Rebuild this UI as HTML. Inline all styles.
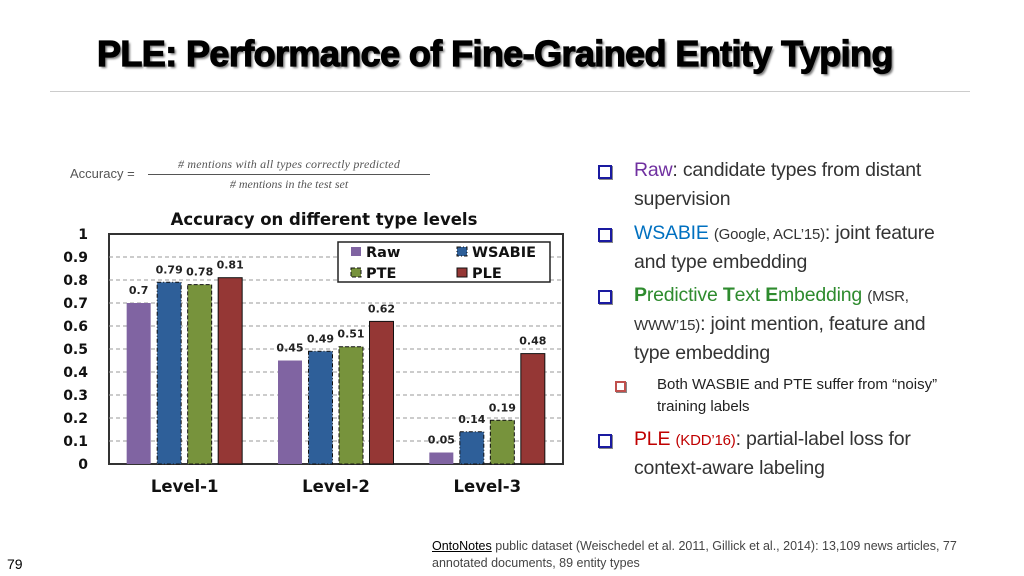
<!DOCTYPE html>
<html><head><meta charset="utf-8"><style>
body{margin:0;width:1024px;height:576px;background:#fff;overflow:hidden;font-family:"Liberation Sans",sans-serif;position:relative}
.abs{position:absolute;margin:0}
#title{left:97px;top:33px;font-size:36px;font-weight:900;white-space:nowrap;letter-spacing:-0.6px;text-shadow:2px 2px 2px #777;-webkit-text-stroke:1.2px #000;transform-origin:0 0;transform:scaleX(1.0)}
#rule{left:50px;top:91px;width:920px;height:1px;background:#ccc}
.line{position:absolute;left:634px;font-size:19.5px;color:#333;white-space:nowrap;letter-spacing:-0.2px}
.sq{position:absolute;left:598px;width:10px;height:10px;border:2px solid #1a1aa0;box-shadow:1px 1px 0 #888}
.small{font-size:15px}
</style></head><body>
<div id="title" class="abs">PLE: Performance of Fine-Grained Entity Typing</div>
<div id="rule" class="abs"></div>

<div class="abs" style="left:70px;top:158px;font-size:13px;color:#555">
 <span style="position:absolute;top:8px;white-space:nowrap">Accuracy =</span>
 <div style="position:absolute;left:78px;top:-1px;width:282px;text-align:center;font-family:'Liberation Serif',serif;font-style:italic;font-size:12px;white-space:nowrap">
  <div style="border-bottom:1px solid #555;padding-bottom:2px;letter-spacing:0.2px"># mentions with all types correctly predicted</div>
  <div style="padding-top:2px"># mentions in the test set</div>
 </div>
</div>

<svg class="abs" style="left:0;top:0" width="580" height="576">
<g id="chart"></g>
</svg>

<div>
<span class="sq" style="top:165px"></span>
<div class="line" style="top:159px"><span style="color:#7030a0">Raw</span>: candidate types from distant</div>
<div class="line" style="top:188px">supervision</div></div>
<div>
<span class="sq" style="top:228px"></span>
<div class="line" style="top:222px"><span style="color:#0070c0">WSABIE</span> <span class="small">(Google, ACL’15)</span>: joint feature</div>
<div class="line" style="top:251px">and type embedding</div></div>
<div>
<span class="sq" style="top:290px"></span>
<div class="line" style="top:284px"><span style="color:#2e8b2e"><b>P</b>redictive <b>T</b>ext <b>E</b>mbedding</span> <span class="small">(MSR,</span></div>
<div class="line" style="top:313px"><span class="small">WWW’15)</span>: joint mention, feature and</div>
<div class="line" style="top:342px">type embedding</div></div>
<div>
<span class="sq" style="top:381px;left:615px;width:7px;height:7px;border-color:#c0504d"></span>
<div class="line" style="left:657px;top:376px;font-size:15px;color:#222;letter-spacing:0">Both WASBIE and PTE suffer from “noisy”</div>
<div class="line" style="left:657px;top:398px;font-size:15px;color:#222;letter-spacing:0">training labels</div></div>
<div>
<span class="sq" style="top:434px"></span>
<div class="line" style="top:428px"><span style="color:#c00000">PLE</span> <span class="small" style="color:#c00000">(KDD’16)</span>: partial-label loss for</div>
<div class="line" style="top:457px">context-aware labeling</div></div>

<div class="abs" style="left:432px;top:538px;width:560px;font-size:12.5px;line-height:17px;color:#444"><span style="color:#000;text-decoration:underline">OntoNotes</span> public dataset (Weischedel et al. 2011, Gillick et al., 2014): 13,109 news articles, 77 annotated documents, 89 entity types</div>
<div class="abs" style="left:7px;top:556px;font-size:14px">79</div>

<script>
const categories=["Level-1","Level-2","Level-3"];
const seriesNames=["Raw","WSABIE","PTE","PLE"];
const raw=[0.7,0.45,0.05];
const wsabie=[0.79,0.49,0.14];
const pte=[0.78,0.51,0.19];
const ple=[0.81,0.62,0.48];
const valueLabels=[["0.7","0.45","0.05"],["0.79","0.49","0.14"],["0.78","0.51","0.19"],["0.81","0.62","0.48"]];
const yTicks=[0,0.1,0.2,0.3,0.4,0.5,0.6,0.7,0.8,0.9,1];
const series=[raw,wsabie,pte,ple];
const colors=["#8064a2","#2e5f99","#77933c","#953735"];
const dash=[null,"4,2,1,2","4,2",null];
const X0=109,X1=563,Y0=464,Y1=234;
const F='DejaVu Sans, sans-serif';
function yy(v){return Y0-v*(Y0-Y1);}
const band=(X1-X0)/categories.length;
function bx(c,s){return X0+band*c+band/2-58+s*30.5;}
const g=document.getElementById('chart');
const NS='http://www.w3.org/2000/svg';
function mk(t,a,txt){const e=document.createElementNS(NS,t);for(const k in a)e.setAttribute(k,a[k]);if(txt!==undefined)e.textContent=txt;g.appendChild(e);return e;}
let e=mk('rect',{x:X0,y:Y1,width:X1-X0,height:Y0-Y1,fill:'#fff',stroke:'#333','stroke-width':2});

yTicks.forEach(t=>{
 if(t>0&&t<1){const l=mk('line',{x1:X0,x2:X1,y1:yy(t),y2:yy(t),stroke:'#999','stroke-dasharray':'4,3'});
 }
 const tx=mk('text',{x:88,y:yy(t)+5,'text-anchor':'end','font-size':14,'font-weight':'bold','font-family':F,fill:'#111'},String(t));
 
});
let tt=mk('text',{x:324,y:225,'text-anchor':'middle','font-size':16.5,'font-weight':'bold','font-family':F,fill:'#111'},'Accuracy on different type levels');

categories.forEach((c,i)=>{
 const t=mk('text',{x:X0+band*i+band/2,y:492,'text-anchor':'middle','font-size':16.5,'font-weight':'bold','font-family':F,fill:'#111'},c);
 
 series.forEach((s,j)=>{
  const a={x:bx(i,j),y:yy(s[i]),width:24,height:yy(0)-yy(s[i]),fill:colors[j]};
  if(j>0){a.stroke='#111';a['stroke-width']=1;if(dash[j])a['stroke-dasharray']=dash[j];}
  const r=mk('rect',a);
  
  
  const v=mk('text',{x:bx(i,j)+12,y:yy(s[i])-9,'text-anchor':'middle','font-size':11,'font-weight':'bold','font-family':F,fill:'#222'},valueLabels[j][i]);
  
 });
});
const lb=mk('rect',{x:338,y:242,width:212,height:40,fill:'#fff',stroke:'#222','stroke-width':1.5});

const lp=[[351,251],[457,251],[351,272],[457,272]];
seriesNames.forEach((n,j)=>{
 const r=mk('rect',{x:lp[j][0],y:lp[j][1]-4,width:10,height:9,fill:colors[j],stroke:j?'#111':'none','stroke-dasharray':dash[j]||''});
 
 const t=mk('text',{x:lp[j][0]+15,y:lp[j][1]+6,'font-size':14.5,'font-weight':'bold','font-family':F,fill:'#111'},n);
 
});
</script>
</body></html>
